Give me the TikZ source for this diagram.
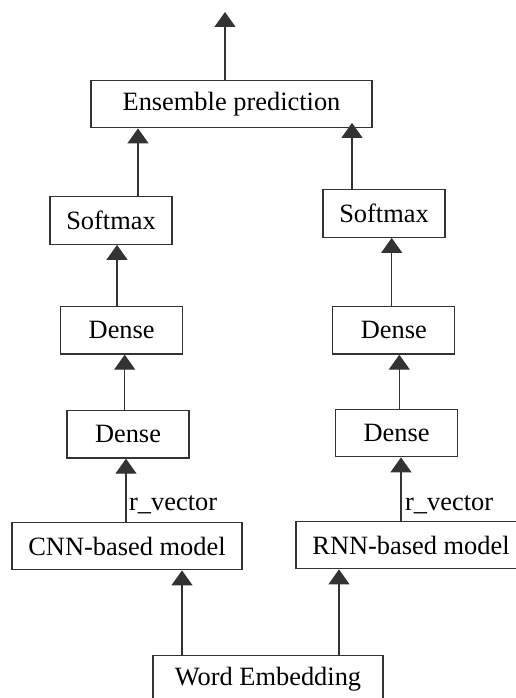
\documentclass[tikz,border=0pt]{standalone}
\usepackage{fontspec}
\setmainfont{Liberation Serif}
\usetikzlibrary{arrows.meta}

\tikzset{
  layer/.style={draw=black!80, line width=1.3pt, rectangle, inner sep=0pt,
    minimum height=47.5pt, font=\fontsize{26.4}{30}\selectfont, text=black},
  flow/.style={draw=black!80, line width=1.3pt,
    -{Triangle[width=21pt,length=15pt]}},
  lbl/.style={anchor=base west, inner sep=0pt,
    font=\fontsize{26.4}{30}\selectfont, text=black}
}

\begin{document}
\begin{tikzpicture}[x=1pt,y=-1pt]
\useasboundingbox (0,0) rectangle (516,698);

% layer boxes
\node[layer, minimum width=281pt] (ens) at (231.5,104) {Ensemble prediction};
\node[layer, minimum width=122pt] (smL) at (111,220.5) {Softmax};
\node[layer, minimum width=122pt] (smR) at (384,213.5) {Softmax};
\node[layer, minimum width=122pt] (dnLa) at (121.7,330.3) {Dense};
\node[layer, minimum width=122pt] (dnRa) at (393.8,330.3) {Dense};
\node[layer, minimum width=122pt] (dnLb) at (128,434.3) {Dense};
\node[layer, minimum width=122pt] (dnRb) at (396.5,433) {Dense};
\node[layer, minimum width=230pt] (cnn) at (127,546) {CNN-based model};
\node[layer, minimum width=230pt] (rnn) at (411,545) {RNN-based model};
\node[layer, minimum width=230pt] (we) at (268,679.5) {Word Embedding};

% output
\coordinate (out) at (225,12);
\draw[flow] (ens.north -| out) -- (out);

% softmax to ensemble
\draw[flow] ([xshift=27pt]smL.north) -- ([xshift=27pt]smL.north |- ens.south);
\draw[flow, shorten >=-5.5pt] ([xshift=-32pt]smR.north) -- ([xshift=-32pt]smR.north |- ens.south);

% dense stacks
\draw[flow] ([xshift=-4.7pt]dnLa.north) -- ([xshift=-4.7pt]dnLa.north |- smL.south);
\draw[flow] ([xshift=-2.1pt]dnRa.north) -- ([xshift=-2.1pt]dnRa.north |- smR.south);
\draw[flow] ([xshift=-3.3pt]dnLb.north) -- ([xshift=-3.3pt]dnLb.north |- dnLa.south);
\draw[flow] ([xshift=2.8pt]dnRb.north) -- ([xshift=2.8pt]dnRb.north |- dnRa.south);

% models to dense
\draw[flow] ([xshift=-1pt]cnn.north) -- ([xshift=-1pt]cnn.north |- dnLb.south);
\draw[flow] ([xshift=-10pt]rnn.north) -- ([xshift=-10pt]rnn.north |- dnRb.south);
\node[lbl] (rvL) at (129,510) {r\_vector};
\node[lbl] (rvR) at (405,510) {r\_vector};

% embedding to models
\draw[flow] ([xshift=-86pt]we.north) -- ([xshift=-86pt]we.north |- cnn.south);
\draw[flow] ([xshift=71pt]we.north) -- ([xshift=71pt]we.north |- rnn.south);
\end{tikzpicture}
\end{document}
